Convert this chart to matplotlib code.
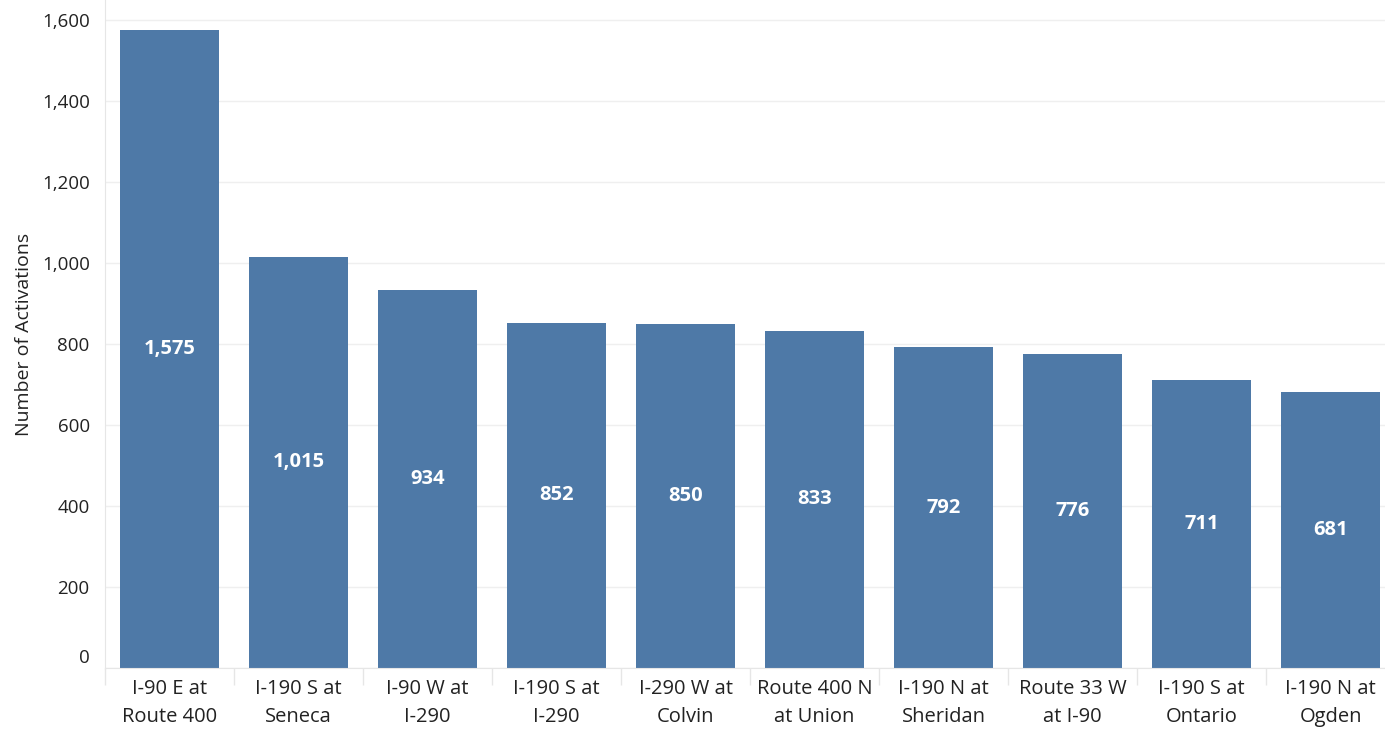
import matplotlib
matplotlib.use("Agg")
import matplotlib.pyplot as plt
import matplotlib.transforms as mtransforms
import numpy as np

plt.rcParams['font.family'] = ['Open Sans', 'DejaVu Sans']

locations = ["I-90 E at\nRoute 400", "I-190 S at\nSeneca", "I-90 W at\nI-290",
             "I-190 S at\nI-290", "I-290 W at\nColvin", "Route 400 N\nat Union",
             "I-190 N at\nSheridan", "Route 33 W\nat I-90", "I-190 S at\nOntario",
             "I-190 N at\nOgden"]
activations = [1575, 1015, 934, 852, 850, 833, 792, 776, 711, 681]
y_ticks = [0, 200, 400, 600, 800, 1000, 1200, 1400, 1600]

bar_color = "#4E79A7"
grid_color = "#EFEFEF"
text_color = "#222222"

fig = plt.figure(figsize=(13.85, 7.29), dpi=100)
ax = fig.add_axes([105 / 1385, 1 - 668 / 729, 1290 / 1385, 668 / 729])

x = np.arange(len(activations))
ax.bar(x, activations, width=0.76, color=bar_color, zorder=2)

for xi, v in zip(x, activations):
    ax.text(xi, v / 2, f"{v:,}", ha="center", va="center", color="white",
            fontsize=14.5, fontweight="bold", zorder=3)

ax.set_xlim(-0.5, len(activations) - 0.5)
ax.set_ylim(0, 1649)
ax.set_yticks(y_ticks)
ax.set_yticklabels([f"{t:,}" for t in y_ticks])
ax.grid(axis="y", color=grid_color, linewidth=1, zorder=0)

ax.set_xticks(x)
ax.set_xticklabels(locations, linespacing=1.55)
ax.set_xticks(np.arange(-0.5, len(activations)), minor=True)
ax.tick_params(axis="x", which="major", length=0, pad=8, labelsize=14.5, labelcolor=text_color)
ax.tick_params(axis="x", which="minor", length=12, color="#E6E6E6", width=1)
ax.tick_params(axis="y", length=0, pad=11, labelsize=13.5, labelcolor=text_color)

# shift the zero label up a bit, as in the original
zero_lbl = ax.get_yticklabels()[0]
zero_lbl.set_transform(zero_lbl.get_transform() +
                       mtransforms.ScaledTranslation(0, 12 / 100, fig.dpi_scale_trans))

for side in ["top", "right"]:
    ax.spines[side].set_visible(False)
ax.spines["left"].set_color("#E6E6E6")
ax.spines["bottom"].set_color("#E6E6E6")

ax.set_ylabel("Number of Activations", fontsize=14, color=text_color)
ax.yaxis.set_label_coords(-0.056, 0.5)

fig.savefig("out.png", dpi=100)
